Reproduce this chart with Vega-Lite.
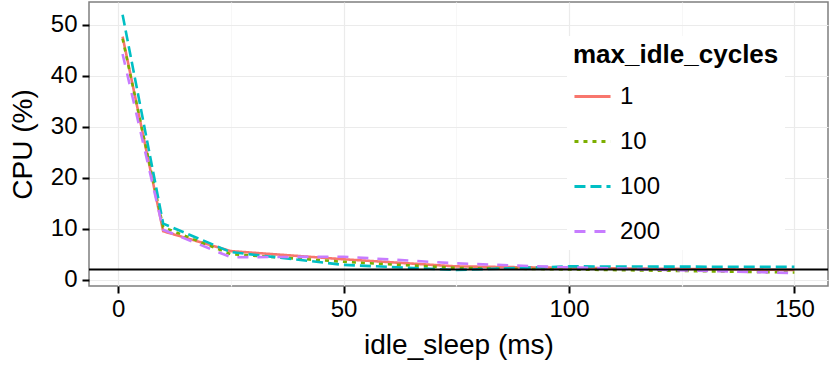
{
  "$schema": "https://vega.github.io/schema/vega-lite/v6.json",
  "width": 739,
  "height": 284,
  "autosize": "none",
  "padding": {"left": 89, "top": 2, "right": 2, "bottom": 79},
  "background": "white",
  "config": {
    "font": "Liberation Sans",
    "view": {"stroke": "#7F7F7F", "strokeWidth": 1.5},
    "axis": {
      "domain": false,
      "labelFont": "Liberation Sans",
      "titleFont": "Liberation Sans",
      "labelColor": "#000000",
      "titleColor": "#000000",
      "titleFontWeight": "normal",
      "tickColor": "#000000",
      "tickWidth": 2,
      "tickSize": 7,
      "gridWidth": 1.2
    }
  },
  "datasets": {
    "cpu": [
      {"idle_sleep": 1, "cpu": 47.7, "max_idle_cycles": "1"},
      {"idle_sleep": 10, "cpu": 9.5, "max_idle_cycles": "1"},
      {"idle_sleep": 25, "cpu": 5.6, "max_idle_cycles": "1"},
      {"idle_sleep": 50, "cpu": 4.0, "max_idle_cycles": "1"},
      {"idle_sleep": 75, "cpu": 2.6, "max_idle_cycles": "1"},
      {"idle_sleep": 100, "cpu": 2.3, "max_idle_cycles": "1"},
      {"idle_sleep": 150, "cpu": 1.9, "max_idle_cycles": "1"},
      {"idle_sleep": 1, "cpu": 47.3, "max_idle_cycles": "10"},
      {"idle_sleep": 10, "cpu": 10.3, "max_idle_cycles": "10"},
      {"idle_sleep": 25, "cpu": 5.0, "max_idle_cycles": "10"},
      {"idle_sleep": 50, "cpu": 3.5, "max_idle_cycles": "10"},
      {"idle_sleep": 75, "cpu": 2.3, "max_idle_cycles": "10"},
      {"idle_sleep": 100, "cpu": 2.0, "max_idle_cycles": "10"},
      {"idle_sleep": 150, "cpu": 1.4, "max_idle_cycles": "10"},
      {"idle_sleep": 1, "cpu": 52.0, "max_idle_cycles": "100"},
      {"idle_sleep": 10, "cpu": 11.0, "max_idle_cycles": "100"},
      {"idle_sleep": 25, "cpu": 5.4, "max_idle_cycles": "100"},
      {"idle_sleep": 50, "cpu": 2.9, "max_idle_cycles": "100"},
      {"idle_sleep": 75, "cpu": 1.9, "max_idle_cycles": "100"},
      {"idle_sleep": 100, "cpu": 2.6, "max_idle_cycles": "100"},
      {"idle_sleep": 150, "cpu": 2.5, "max_idle_cycles": "100"},
      {"idle_sleep": 1, "cpu": 44.3, "max_idle_cycles": "200"},
      {"idle_sleep": 10, "cpu": 9.8, "max_idle_cycles": "200"},
      {"idle_sleep": 25, "cpu": 4.4, "max_idle_cycles": "200"},
      {"idle_sleep": 50, "cpu": 4.5, "max_idle_cycles": "200"},
      {"idle_sleep": 75, "cpu": 3.2, "max_idle_cycles": "200"},
      {"idle_sleep": 100, "cpu": 2.4, "max_idle_cycles": "200"},
      {"idle_sleep": 150, "cpu": 1.3, "max_idle_cycles": "200"}
    ],
    "ref": [{"threshold": 2}]
  },
  "layer": [
    {
      "data": {"name": "cpu"},
      "mark": {"type": "line", "strokeWidth": 2.6, "clip": true},
      "encoding": {
        "x": {
          "field": "idle_sleep",
          "type": "quantitative",
          "title": "idle_sleep (ms)",
          "scale": {"domain": [-6.45, 157.45], "nice": false, "zero": false},
          "axis": {
            "values": [0, 25, 50, 75, 100, 125, 150],
            "labelExpr": "datum.value % 50 === 0 ? datum.label : ''",
            "gridColor": {"condition": {"test": "datum.value % 50 === 0", "value": "#EBEBEB"}, "value": "#F7F7F7"},
            "tickOpacity": {"condition": {"test": "datum.value % 50 === 0", "value": 1}, "value": 0},
            "labelFontSize": 24,
            "labelPadding": 4,
            "titleFontSize": 28,
            "titlePadding": 10
          }
        },
        "y": {
          "field": "cpu",
          "type": "quantitative",
          "title": "CPU (%)",
          "scale": {"domain": [-1.25, 54.5], "nice": false, "zero": false},
          "axis": {
            "values": [0, 5, 10, 15, 20, 25, 30, 35, 40, 45, 50],
            "labelExpr": "datum.value % 10 === 0 ? datum.label : ''",
            "gridColor": {"condition": {"test": "datum.value % 10 === 0", "value": "#EBEBEB"}, "value": "#F7F7F7"},
            "tickOpacity": {"condition": {"test": "datum.value % 10 === 0", "value": 1}, "value": 0},
            "labelFontSize": 24,
            "labelPadding": 5,
            "titleFontSize": 28,
            "titlePadding": 13
          }
        },
        "color": {
          "field": "max_idle_cycles",
          "type": "nominal",
          "scale": {"domain": ["1", "10", "100", "200"], "range": ["#F8766D", "#7CAE00", "#00BFC4", "#C77CFF"]},
          "legend": {
            "orient": "none",
            "legendX": 478,
            "legendY": 34,
            "fillColor": "white",
            "padding": 6,
            "symbolType": "stroke",
            "symbolSize": 1300,
            "symbolStrokeWidth": 2.8,
            "rowPadding": 13,
            "labelFontSize": 24,
            "labelColor": "#000000",
            "labelOffset": 8,
            "titleFontSize": 26,
            "titleLimit": 300,
            "titleFontWeight": "bold",
            "titleColor": "#000000",
            "titlePadding": 9
          }
        },
        "strokeDash": {
          "field": "max_idle_cycles",
          "type": "nominal",
          "scale": {"domain": ["1", "10", "100", "200"], "range": [[1, 0], [4, 5], [11, 5], [11, 9]]}
        }
      }
    },
    {
      "data": {"name": "ref"},
      "mark": {"type": "rule", "color": "#000000", "strokeWidth": 2},
      "encoding": {
        "y": {"field": "threshold", "type": "quantitative"}
      }
    }
  ]
}
